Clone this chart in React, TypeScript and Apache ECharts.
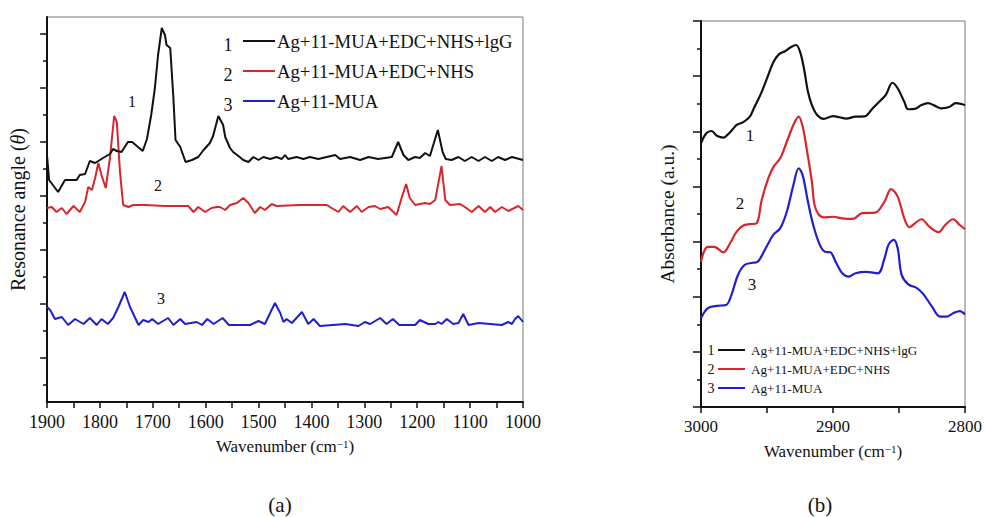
import React, { useEffect, useRef } from "react";
import * as echarts from "echarts";

// ---------- Panel (a): SPR spectra ----------
const wnA1 = [1900,1896,1879,1866,1844,1838,1828,1819,1809,1803,1794,1781,1775,1768,1759,1747,1739,1728,1719,1711,1703,1696,1690,1683,1677,1674,1667,1661,1657,1648,1638,1626,1614,1604,1592,1586,1576,1567,1563,1554,1548,1538,1529,1519,1510,1500,1491,1478,1466,1456,1450,1444,1428,1415,1403,1387,1371,1355,1346,1327,1308,1292,1274,1248,1236,1226,1217,1204,1195,1185,1176,1161,1152,1146,1135,1122,1110,1097,1084,1072,1059,1047,1034,1021,1000];
const sigA1 = [247,222,210,222,222,227,228,241,239,241,244,248,253,251,250,260,260,255,251,263,287,314,347,374,367,357,354,304,262,255,240,242,245,252,259,266,286,277,265,254,250,246,242,240,245,242,245,243,245,243,247,243,245,243,245,243,245,247,243,245,242,245,243,245,260,247,242,245,244,249,246,272,250,243,242,245,241,245,241,245,241,245,242,245,242];

const wnA2 = [1900,1891,1882,1872,1863,1850,1838,1828,1822,1815,1809,1803,1797,1789,1781,1773,1768,1762,1756,1746,1737,1715,1677,1633,1623,1614,1601,1589,1579,1573,1563,1554,1541,1529,1519,1507,1497,1488,1475,1466,1422,1371,1362,1349,1340,1327,1314,1305,1292,1280,1270,1255,1239,1229,1221,1214,1204,1185,1176,1166,1154,1147,1138,1119,1110,1097,1084,1072,1062,1053,1040,1028,1009,1000];
const sigA2 = [194,195,190,194,188,196,190,200,215,212,224,239,227,214,244,286,280,230,197,195,197,197,196,196,190,195,190,194,195,195,192,197,199,204,199,189,195,192,198,196,197,197,194,190,196,190,196,190,195,196,193,195,187,205,218,204,197,199,198,202,236,202,197,198,195,190,196,190,195,190,195,191,196,192];

const wnA3 = [1900,1894,1885,1872,1860,1847,1831,1819,1806,1797,1785,1775,1765,1753,1743,1727,1718,1708,1701,1690,1671,1661,1648,1639,1617,1607,1597,1585,1568,1556,1516,1500,1488,1469,1459,1453,1447,1437,1418,1406,1396,1384,1336,1311,1299,1289,1270,1258,1246,1234,1204,1195,1179,1166,1160,1154,1144,1132,1122,1113,1103,1084,1040,1028,1021,1015,1009,1000];
const sigA3 = [95,92,83,85,77,83,78,84,77,83,78,84,95,110,95,77,82,80,83,78,84,77,83,78,80,77,83,78,84,77,77,81,78,99,89,80,83,79,90,78,83,76,78,76,80,78,84,78,83,77,77,82,78,78,80,78,83,78,79,88,77,79,77,80,78,83,86,80];

const ticksA_major = [44, 98, 152, 206, 260, 314, 368];
const ticksA_minor = [17, 71, 125, 179, 233, 287, 341];

// ---------- Panel (b): absorbance spectra ----------
const wnB1 = [3000,2996,2992,2988,2983,2980,2976,2973,2968,2963,2960,2955,2950,2945,2941,2936,2932,2928,2925,2922,2919,2916,2912,2907,2900,2895,2890,2883,2876,2870,2865,2860,2855,2851,2846,2843,2838,2833,2828,2823,2818,2812,2807,2802,2800];
const absB1 = [9.56,9.93,10.01,9.84,9.77,9.87,10.07,10.23,10.33,10.53,10.83,11.32,11.92,12.52,12.79,12.91,13.05,13.13,12.89,12.28,11.44,10.95,10.59,10.45,10.55,10.51,10.46,10.53,10.54,10.83,11.07,11.32,11.76,11.56,11.07,10.80,10.81,10.95,11.02,10.93,10.83,10.88,11.02,10.98,10.94];

const wnB2 = [3000,2995,2990,2983,2978,2973,2968,2963,2958,2954,2949,2945,2940,2935,2930,2926,2923,2920,2916,2914,2911,2907,2900,2893,2885,2878,2868,2861,2856,2851,2846,2842,2838,2833,2827,2820,2815,2809,2804,2800];
const absB2 = [5.27,5.81,5.81,5.61,5.94,6.36,6.58,6.63,6.66,7.51,8.30,8.72,9.02,9.62,10.23,10.53,10.17,9.38,8.17,7.33,6.99,6.88,6.90,6.84,6.82,7.03,7.05,7.45,7.90,7.63,6.84,6.52,6.66,6.81,6.54,6.34,6.60,6.81,6.60,6.45];

const wnB3 = [3000,2995,2988,2981,2977,2972,2967,2961,2957,2951,2945,2940,2935,2930,2926,2923,2919,2915,2910,2906,2902,2898,2893,2888,2883,2875,2866,2861,2858,2854,2851,2848,2843,2837,2832,2825,2819,2814,2809,2804,2800];
const absB3 = [3.22,3.58,3.67,3.70,4.06,4.79,5.15,5.23,5.27,5.76,6.26,6.48,7.08,8.05,8.66,8.41,7.45,6.60,5.88,5.63,5.61,5.27,4.85,4.73,4.85,4.90,4.85,5.39,5.88,6.06,5.76,4.79,4.45,4.33,4.12,3.64,3.28,3.28,3.40,3.48,3.36];

const legendNames = ["Ag+11-MUA+EDC+NHS+lgG", "Ag+11-MUA+EDC+NHS", "Ag+11-MUA"];
const legendNums = ["1", "2", "3"];
const colors = ["#111111", "#d8262c", "#1f1fcf"];

const FONT = '"Liberation Serif", "Times New Roman", Times, serif';
const TXT = "#111";

function zip(xs: number[], ys: number[]) {
  const n = Math.min(xs.length, ys.length);
  const out: number[][] = [];
  for (let i = 0; i < n; i++) out.push([xs[i], ys[i]]);
  return out;
}

export default function App() {
  const ref = useRef<HTMLDivElement>(null);
  useEffect(() => {
    if (!ref.current) return;
    const chart = echarts.init(ref.current, undefined, { renderer: "svg" });

    const axisLine = { show: true, lineStyle: { color: "#111", width: 2 } };
    const tickStyle = { color: "#111", width: 1.5 };
    const nameStyle = (size: number) => ({
      fontFamily: FONT,
      fontSize: size,
      color: TXT,
      rich: {
        sup: { fontFamily: FONT, fontSize: 11, color: TXT, verticalAlign: "top", padding: [0, 0, 6, 0] },
        it: { fontFamily: FONT, fontSize: size, color: TXT, fontStyle: "italic" },
      },
    });
    const tickLabel = (size: number) => ({
      fontFamily: FONT, fontSize: size, color: TXT, margin: 11,
      formatter: (v: number) => "{t|" + String(v) + "}",
      rich: { t: { fontFamily: FONT, fontSize: size, color: TXT } },
    });

    const aData = [zip(wnA1, sigA1), zip(wnA2, sigA2), zip(wnA3, sigA3)];
    const bData = [zip(wnB1, absB1), zip(wnB2, absB2), zip(wnB3, absB3)];

    const graphics: any[] = [];
    // legend (a)
    const legAY = [41, 71, 101];
    legAY.forEach((y, i) => {
      graphics.push({ type: "text", x: 228, y: y + 4, style: { text: legendNums[i], fontFamily: FONT, fontSize: 18, fill: TXT, align: "center", verticalAlign: "middle" } });
      graphics.push({ type: "line", shape: { x1: 243, y1: y, x2: 275, y2: y }, style: { stroke: colors[i], lineWidth: 2 } });
      graphics.push({ type: "text", x: 277, y: y, style: { text: legendNames[i], fontFamily: FONT, fontSize: 18.7, fill: TXT, align: "left", verticalAlign: "middle" } });
    });
    // legend (b)
    const legBY = [350, 369, 388];
    legBY.forEach((y, i) => {
      graphics.push({ type: "text", x: 711, y: y, style: { text: legendNums[i], fontFamily: FONT, fontSize: 14, fill: TXT, align: "center", verticalAlign: "middle" } });
      graphics.push({ type: "line", shape: { x1: 718, y1: y, x2: 745, y2: y }, style: { stroke: colors[i], lineWidth: 2 } });
      graphics.push({ type: "text", x: 751, y: y, style: { text: legendNames[i], fontFamily: FONT, fontSize: 13.2, fill: TXT, align: "left", verticalAlign: "middle" } });
    });
    // curve annotations
    const ann = [
      { t: "1", x: 132, y: 101, s: 16 },
      { t: "2", x: 158, y: 185, s: 16 },
      { t: "3", x: 161, y: 298, s: 16 },
      { t: "1", x: 750, y: 135, s: 17 },
      { t: "2", x: 740, y: 203, s: 17 },
      { t: "3", x: 752, y: 284, s: 17 },
    ];
    ann.forEach((a) => {
      graphics.push({ type: "text", x: a.x, y: a.y, style: { text: a.t, fontFamily: FONT, fontSize: a.s, fill: TXT, align: "center", verticalAlign: "middle" } });
    });
    // captions
    graphics.push({ type: "text", x: 280, y: 505, style: { text: "(a)", fontFamily: FONT, fontSize: 21, fill: TXT, align: "center", verticalAlign: "middle" } });
    graphics.push({ type: "text", x: 820, y: 505, style: { text: "(b)", fontFamily: FONT, fontSize: 21, fill: TXT, align: "center", verticalAlign: "middle" } });

    const option: any = {
      animation: false,
      backgroundColor: "#fff",
      textStyle: { fontFamily: FONT },
      grid: [
        { left: 47, top: 17, width: 476, height: 385, show: true, borderColor: "#777", borderWidth: 1, containLabel: false },
        { left: 701, top: 21, width: 268, height: 386, show: true, borderColor: "#777", borderWidth: 1, containLabel: false },
      ],
      xAxis: [
        {
          gridIndex: 0, type: "value", position: "bottom", min: 1000, max: 1900, interval: 100, inverse: true,
          axisLine, axisTick: { show: true, length: 6, lineStyle: tickStyle },
          minorTick: { show: true, splitNumber: 2, length: 6, lineStyle: tickStyle },
          splitLine: { show: false }, minorSplitLine: { show: false },
          axisLabel: tickLabel(18),
          name: "Wavenumber (cm{sup|−1})", nameLocation: "middle", nameGap: 36,
          nameTextStyle: nameStyle(17),
        },
        {
          gridIndex: 1, type: "value", position: "bottom", min: 2800, max: 3000, interval: 100, inverse: true,
          axisLine, axisTick: { show: true, length: 6, lineStyle: tickStyle },
          minorTick: { show: true, splitNumber: 2, length: 6, lineStyle: tickStyle },
          splitLine: { show: false }, minorSplitLine: { show: false },
          axisLabel: tickLabel(17),
          name: "Wavenumber (cm{sup|−1})", nameLocation: "middle", nameGap: 36,
          nameTextStyle: nameStyle(17),
        },
      ],
      yAxis: [
        {
          gridIndex: 0, type: "value", position: "left", min: 0, max: 385,
          axisLine, axisTick: { show: true, length: 7, customValues: ticksA_major, lineStyle: tickStyle },
          axisLabel: { show: false }, splitLine: { show: false },
          name: "Resonance angle ({it|θ})", nameLocation: "middle", nameGap: 19,
          nameTextStyle: nameStyle(20),
        },
        {
          gridIndex: 0, type: "value", position: "left", offset: 0, min: 0, max: 385,
          axisLine: { show: false }, axisTick: { show: true, length: 4, customValues: ticksA_minor, lineStyle: tickStyle },
          axisLabel: { show: false }, splitLine: { show: false },
        },
        {
          gridIndex: 1, type: "value", position: "left", min: 0, max: 14, interval: 2,
          axisLine, axisTick: { show: true, length: 8, lineStyle: tickStyle },
          minorTick: { show: true, splitNumber: 2, length: 4, lineStyle: tickStyle },
          axisLabel: { show: false }, splitLine: { show: false }, minorSplitLine: { show: false },
          name: "Absorbance (a.u.)", nameLocation: "middle", nameGap: 24,
          nameTextStyle: nameStyle(19.5),
        },
      ],
      series: [
        ...aData.map((d, i) => ({
          type: "line", xAxisIndex: 0, yAxisIndex: 0, data: d, showSymbol: false, smooth: false,
          lineStyle: { color: colors[i], width: 2 }, itemStyle: { color: colors[i] }, z: 3 - i,
        })),
        ...bData.map((d, i) => ({
          type: "line", xAxisIndex: 1, yAxisIndex: 2, data: d, showSymbol: false, smooth: 0.35,
          lineStyle: { color: colors[i], width: 2.2 }, itemStyle: { color: colors[i] }, z: 3 - i,
        })),
      ],
      graphic: graphics,
    };
    chart.setOption(option);
    return () => chart.dispose();
  }, []);

  return (
    <div
      ref={ref}
      style={{ position: "absolute", left: 0, top: 0, width: 985, height: 517, background: "#fff" }}
    />
  );
}
